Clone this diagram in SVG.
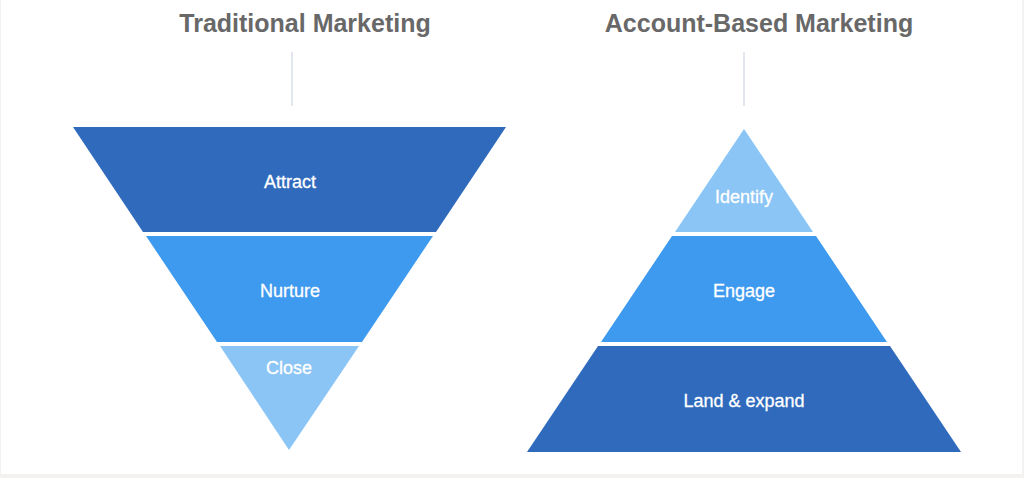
<svg xmlns="http://www.w3.org/2000/svg" width="1024" height="478" viewBox="0 0 1024 478">
<style>
.title{font-family:"Liberation Sans",Arial,sans-serif;font-weight:bold;font-size:25px;fill:#686868;text-anchor:middle}
.lbl{font-family:"Liberation Sans",Arial,sans-serif;font-size:18px;fill:#ffffff;stroke:#ffffff;stroke-width:0.3;text-anchor:middle}
.dark{fill:#2f6abd}
.mid{fill:#3e9aee}
.light{fill:#8ac5f5}
.stem{stroke:#d9dee9;stroke-width:1.5;fill:none}
</style>
<rect x="0" y="0" width="1024" height="478" fill="#f4f2f0"/>
<rect x="1" y="0" width="1021" height="474" fill="#ffffff"/>
<g id="titles">
<text class="title" x="305" y="32">Traditional Marketing</text>
<text class="title" x="759" y="32">Account-Based Marketing</text>
</g>
<g id="connectors">
<line class="stem" x1="292" y1="52" x2="292" y2="106"/>
<line class="stem" x1="744" y1="52" x2="744" y2="106"/>
</g>
<g id="attract">
<polygon class="dark" points="73,127 506,127 436,232 143,232"/>
<text class="lbl" x="290" y="188">Attract</text>
</g>
<g id="nurture">
<polygon class="mid" points="146,236 433,236 362,342 217,342"/>
<text class="lbl" x="290" y="297">Nurture</text>
</g>
<g id="close">
<polygon class="light" points="220,346 359,346 289,450"/>
<text class="lbl" x="289" y="374">Close</text>
</g>
<g id="identify">
<polygon class="light" points="744,129 813,232 675,232"/>
<text class="lbl" x="744" y="203">Identify</text>
</g>
<g id="engage">
<polygon class="mid" points="672,236 816,236 887,342 601,342"/>
<text class="lbl" x="744" y="297">Engage</text>
</g>
<g id="land-expand">
<polygon class="dark" points="598,346 890,346 961,452 527,452"/>
<text class="lbl" x="744" y="407">Land &amp; expand</text>
</g>
</svg>
